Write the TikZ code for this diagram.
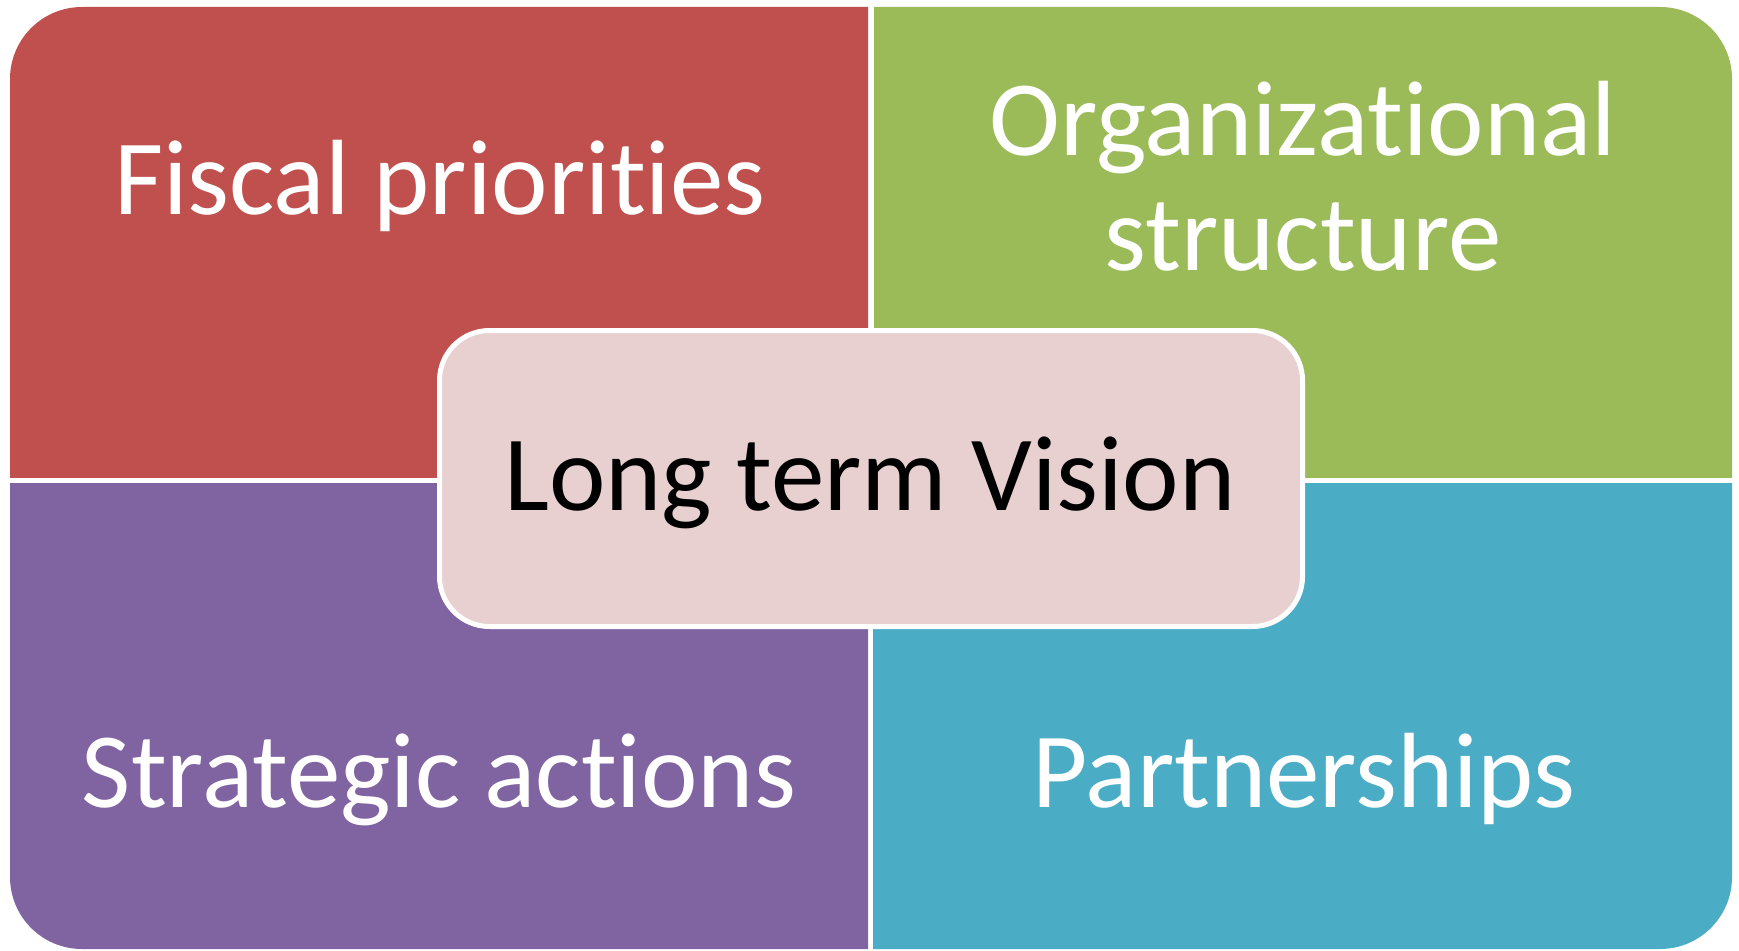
\documentclass[tikz,border=0pt]{standalone}
\usepackage{fontspec}
\setmainfont{Carlito}[Ligatures={NoCommon}]
\definecolor{qred}{HTML}{C0504D}
\definecolor{qgreen}{HTML}{9BBB59}
\definecolor{qpurple}{HTML}{8064A2}
\definecolor{qblue}{HTML}{4BACC6}
\definecolor{vfill}{HTML}{E8D0D1}
\tikzset{
  outerround/.style={rounded corners=72pt},
  quadtext/.style={text=white, font=\fontsize{107}{115}\selectfont, anchor=base, inner sep=0pt, align=center},
  visionbox/.style={draw=white, line width=5pt, fill=vfill, rounded corners=50pt, minimum width=863pt, minimum height=296pt, inner sep=0pt},
  visiontext/.style={text=black, font=\fontsize{107}{115}\selectfont, anchor=base, inner sep=0pt}
}
\begin{document}
\begin{tikzpicture}[x=1pt,y=-1pt]
\useasboundingbox (0,0) rectangle (1739,950);
% quadrants
\begin{scope}
  \clip (10,7) rectangle (868,477);
  \fill[qred, outerround] (10,7) rectangle (1732,949);
\end{scope}
\begin{scope}
  \clip (874,7) rectangle (1732,477);
  \fill[qgreen, outerround] (10,7) rectangle (1732,949);
\end{scope}
\begin{scope}
  \clip (10,483) rectangle (868,949);
  \fill[qpurple, outerround] (10,7) rectangle (1732,949);
\end{scope}
\begin{scope}
  \clip (873,483) rectangle (1732,949);
  \fill[qblue, outerround] (10,7) rectangle (1732,949);
\end{scope}
% texts
\node[quadtext] (fiscal) at (440,214) {Fiscal priorities};
\node[quadtext] (org1) at (1303,155) {Organizational};
\node[quadtext] (org2) at (1303,270) {structure};
\node[quadtext] (strat) at (439,807) {Strategic actions};
\node[quadtext] (part) at (1304,807) {Partnerships};
% center
\node[visionbox] (vision) at (871,478.5) {};
\node[visiontext] (visiontxt) at (870,510) {Long term Vision};
\end{tikzpicture}
\end{document}
